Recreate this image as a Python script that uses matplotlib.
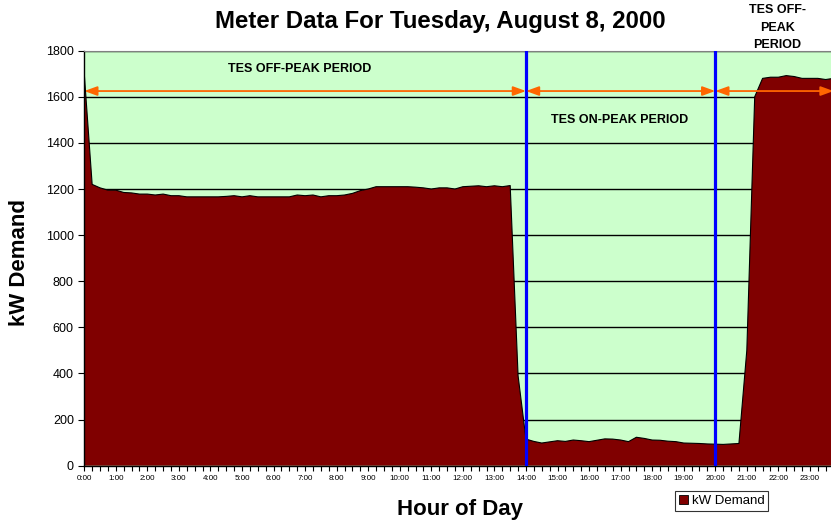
import matplotlib
matplotlib.use('Agg')
import matplotlib.pyplot as plt
from matplotlib.patches import Patch

plt.rcParams['font.family'] = ['Liberation Sans', 'DejaVu Sans']

# 15-minute kW demand readings, 0:00 .. 23:45
demand = [1700, 1220, 1205, 1195, 1195, 1185, 1183, 1178, 1178, 1174, 1178, 1171,
          1171, 1166, 1166, 1166, 1166, 1166, 1168, 1171, 1166, 1171, 1166, 1166,
          1166, 1166, 1166, 1174, 1171, 1174, 1166, 1171, 1171, 1174, 1181, 1193,
          1200, 1210, 1210, 1210, 1210, 1210, 1208, 1205, 1200, 1205, 1205, 1200,
          1210, 1212, 1214, 1210, 1214, 1210, 1215, 390, 115, 105, 98, 103,
          108, 105, 111, 108, 104, 110, 116, 115, 111, 104, 123, 118,
          111, 110, 106, 104, 98, 97, 96, 94, 93, 92, 94, 96,
          500, 1600, 1680, 1685, 1685, 1692, 1688, 1680, 1680, 1680, 1675, 1680]

hour_labels = ["0:00", "1:00", "2:00", "3:00", "4:00", "5:00", "6:00", "7:00",
               "8:00", "9:00", "10:00", "11:00", "12:00", "13:00", "14:00", "15:00",
               "16:00", "17:00", "18:00", "19:00", "20:00", "21:00", "22:00", "23:00"]

on_peak_start = 56   # 14:00
on_peak_end = 80     # 20:00

fig = plt.figure(figsize=(8.31, 5.26), dpi=100)
ax = fig.add_axes([0.1014, 0.1148, 0.9017, 0.7888])
ax.set_facecolor('#CCFFCC')

x = list(range(len(demand)))
ax.fill_between(x, demand, 0, facecolor='#800000', edgecolor='none', zorder=2)
ax.plot(x, demand, color='black', lw=0.8, zorder=3)

ax.set_xlim(0, len(demand) - 1)
ax.set_ylim(0, 1800)
ax.set_yticks(range(0, 1801, 200))
ax.yaxis.grid(True, color='black', lw=1)
ax.set_axisbelow(True)

ax.set_xticks(range(0, len(demand), 4))
ax.set_xticklabels(hour_labels)
ax.set_xticks(x, minor=True)
ax.tick_params(axis='x', which='both', direction='out', length=3.5, width=0.8,
               labelsize=5.8, pad=3)
ax.tick_params(axis='y', direction='out', length=4, width=0.8, labelsize=9)

for s in ['left', 'bottom']:
    ax.spines[s].set_color('black')
    ax.spines[s].set_linewidth(1)
ax.spines['top'].set_color('#808080')
ax.spines['right'].set_visible(False)

# on-peak boundaries
for xv in (on_peak_start, on_peak_end):
    ax.axvline(xv, color='#0000FF', lw=2.3, zorder=4)

# period arrows
arrow_y = 1625
astyle = '<|-|>,head_length=0.55,head_width=0.2'
for a, b in [(0, on_peak_start), (on_peak_start, on_peak_end), (on_peak_end, len(demand) - 1)]:
    ax.annotate('', xy=(a, arrow_y), xytext=(b, arrow_y),
                arrowprops=dict(arrowstyle=astyle, color='#FF6600', lw=1.3,
                                mutation_scale=14, shrinkA=0, shrinkB=0),
                zorder=5, annotation_clip=False)

ax.text(27.3, 1722, 'TES OFF-PEAK PERIOD', fontsize=9, fontweight='bold',
        ha='center', va='center', zorder=6)
ax.text(67.9, 1499, 'TES ON-PEAK PERIOD', fontsize=9, fontweight='bold',
        ha='center', va='center', zorder=6)
ax.text(87.9, 1900, 'TES OFF-\nPEAK\nPERIOD', fontsize=9, fontweight='bold',
        ha='center', va='center', linespacing=1.58, clip_on=False, zorder=6)

fig.text(440.5 / 831, 1 - 28.3 / 526, 'Meter Data For Tuesday, August 8, 2000',
         fontsize=17.3, fontweight='bold', ha='center', va='baseline')
fig.text(20 / 831, 1 - 263 / 526, 'kW Demand', fontsize=16, fontweight='bold',
         ha='center', va='center', rotation=90)
fig.text(460 / 831, 1 - 510 / 526, 'Hour of Day', fontsize=16, fontweight='bold',
         ha='center', va='center')

handle = Patch(facecolor='#800000', edgecolor='black', lw=0.6)
leg = fig.legend([handle], ['kW Demand'], loc='center',
                 bbox_to_anchor=(721.5 / 831, 1 - 501 / 526), fontsize=9.5,
                 frameon=True, fancybox=False, handlelength=0.7, handleheight=0.7,
                 handletextpad=0.3, borderpad=0.3, borderaxespad=0)
leg.get_frame().set_edgecolor('black')
leg.get_frame().set_linewidth(0.8)

fig.savefig('out.png', dpi=100)
